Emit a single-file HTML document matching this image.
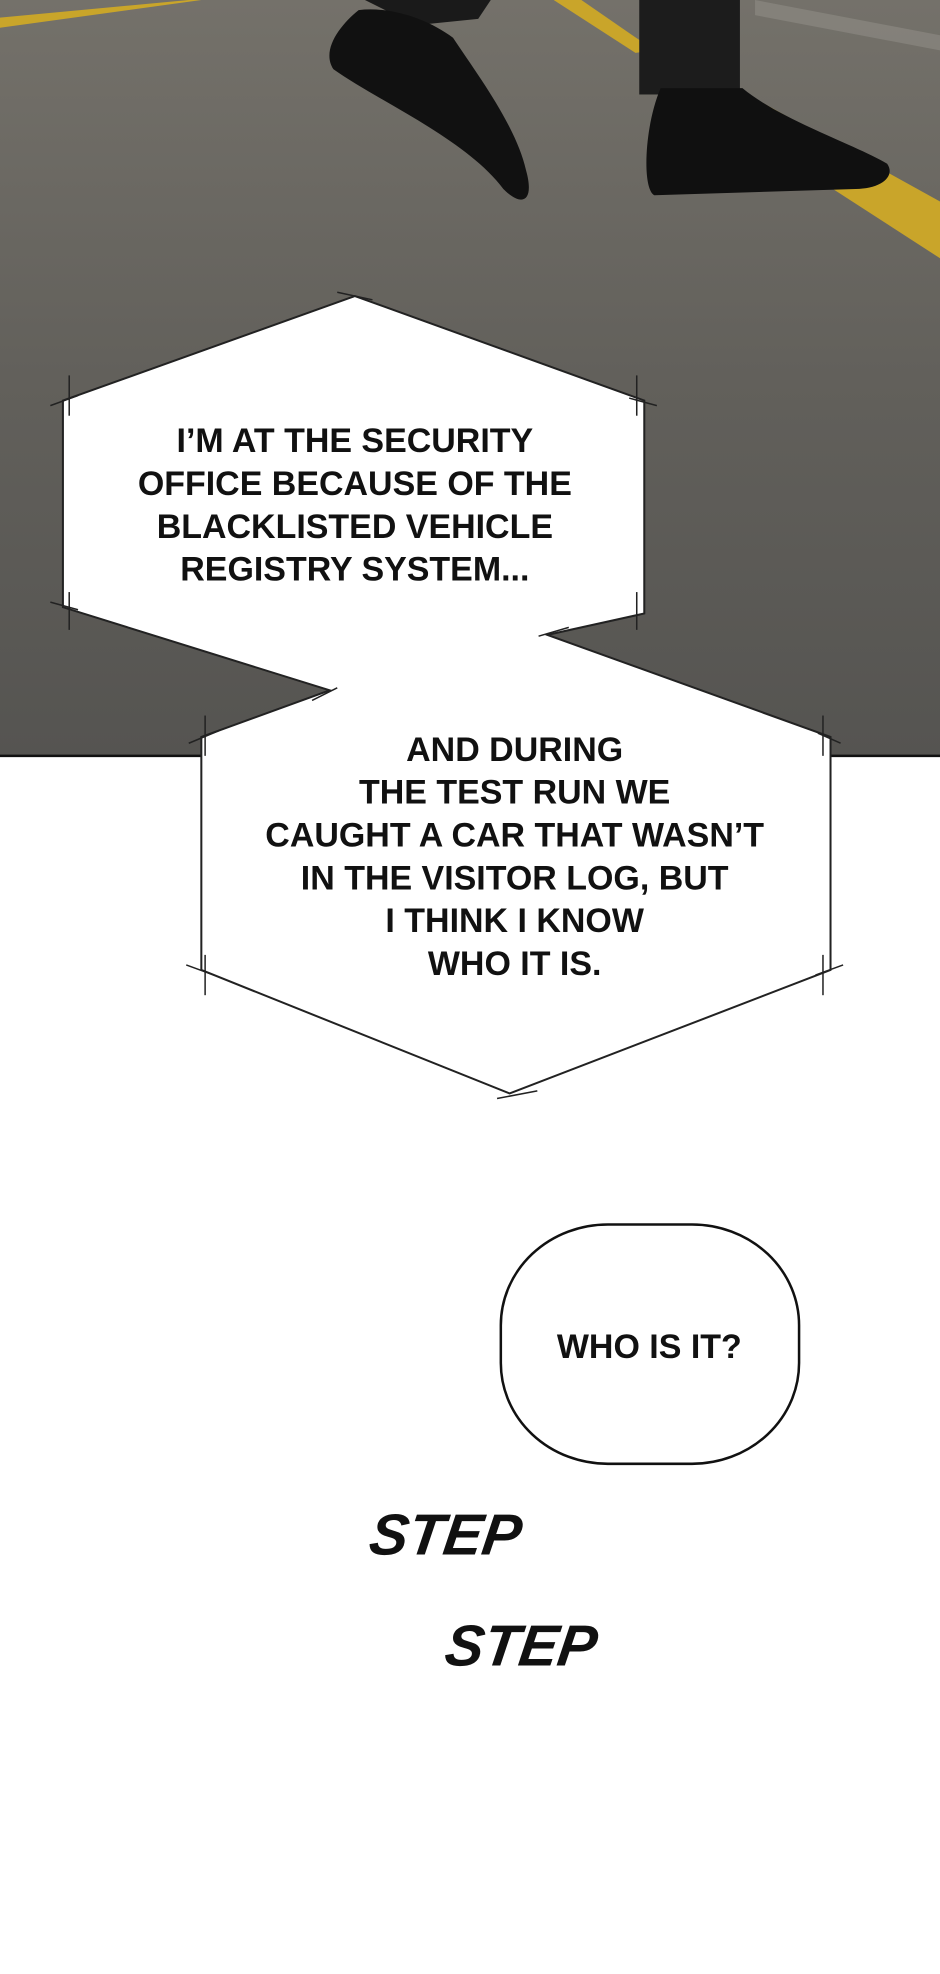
<!DOCTYPE html>
<html><head><meta charset="utf-8"><style>
html,body{margin:0;padding:0;background:#fff;}
svg{display:block;}
</style></head><body>
<svg width="940" height="1974" viewBox="0 0 747 1567" preserveAspectRatio="none" xmlns="http://www.w3.org/2000/svg">
<defs>
<linearGradient id="asph" x1="0" y1="0" x2="0" y2="1">
<stop offset="0" stop-color="#74716a"/>
<stop offset="0.5" stop-color="#62605b"/>
<stop offset="1" stop-color="#555451"/>
</linearGradient>
</defs>
<rect x="0" y="0" width="747" height="600" fill="url(#asph)"/>
<line x1="0" y1="600" x2="747" y2="600" stroke="#111" stroke-width="2"/>
<polygon points="0,14 150,0 160,0 0,22" fill="#c9a52a"/>
<polygon points="440,0 462,0 520,40 505,42" fill="#c9a52a"/>
<polygon points="585,70 747,160 747,205 600,110" fill="#c9a52a"/>
<polygon points="600,0 747,28 747,40 600,12" fill="#8f8c85" opacity="0.6"/>
<polygon points="290,0 390,0 380,15 330,20" fill="#1a1a1a"/>
<path d="M285,8 C270,20 255,40 265,55 C300,80 370,110 400,150 C415,165 425,160 418,135 C410,100 380,60 360,30 C340,15 310,5 285,8Z" fill="#111"/>
<rect x="508" y="0" width="80" height="75" fill="#1c1c1c"/>
<path d="M525,70 L590,70 C620,95 680,115 705,130 C712,140 700,150 680,150 L520,155 C510,150 512,100 525,70Z" fill="#101010"/>
<g fill="#fff" stroke="#222" stroke-width="1.6">
<polygon points="50,318 282,235 512,318 512,487 435,504 660,585 660,770 405,868 160,770 160,585 262,548 50,482"/>
</g>
<g fill="none" stroke="#222" stroke-width="1.2">
<line x1="268" y1="232" x2="296" y2="238"/>
<line x1="40" y1="322" x2="62" y2="314"/>
<line x1="55" y1="298" x2="55" y2="330"/>
<line x1="506" y1="298" x2="506" y2="330"/>
<line x1="500" y1="316" x2="522" y2="322"/>
<line x1="55" y1="470" x2="55" y2="500"/>
<line x1="40" y1="478" x2="62" y2="484"/>
<line x1="506" y1="470" x2="506" y2="500"/>
<line x1="428" y1="505" x2="452" y2="498"/>
<line x1="248" y1="556" x2="268" y2="546"/>
<line x1="150" y1="590" x2="174" y2="580"/>
<line x1="163" y1="568" x2="163" y2="600"/>
<line x1="654" y1="568" x2="654" y2="600"/>
<line x1="650" y1="582" x2="668" y2="590"/>
<line x1="148" y1="766" x2="170" y2="774"/>
<line x1="163" y1="758" x2="163" y2="790"/>
<line x1="654" y1="758" x2="654" y2="790"/>
<line x1="648" y1="774" x2="670" y2="766"/>
<line x1="395" y1="872" x2="427" y2="866"/>
</g>
<g font-family="Liberation Sans, sans-serif" font-weight="bold" font-size="27" fill="#111" text-anchor="middle">
<text x="282" y="359">I’M AT THE SECURITY</text>
<text x="282" y="393">OFFICE BECAUSE OF THE</text>
<text x="282" y="427">BLACKLISTED VEHICLE</text>
<text x="282" y="461">REGISTRY SYSTEM...</text>
<text x="409" y="604">AND DURING</text>
<text x="409" y="638">THE TEST RUN WE</text>
<text x="409" y="672">CAUGHT A CAR THAT WASN’T</text>
<text x="409" y="706">IN THE VISITOR LOG, BUT</text>
<text x="409" y="740">I THINK I KNOW</text>
<text x="409" y="774">WHO IT IS.</text>
</g>
<rect x="398" y="972" width="237" height="190" rx="85" ry="80" fill="#fff" stroke="#111" stroke-width="2"/>
<text x="516" y="1078" font-family="Liberation Sans, sans-serif" font-weight="bold" font-size="27" fill="#111" text-anchor="middle">WHO IS IT?</text>
<g font-family="Liberation Sans, sans-serif" font-style="italic" font-weight="bold" font-size="46" fill="#111">
<text x="292" y="1234" transform="skewX(-8)" transform-origin="292 1234">STEP</text>
<text x="352" y="1322" transform="skewX(-8)" transform-origin="352 1322">STEP</text>
</g>
</svg>
</body></html>
